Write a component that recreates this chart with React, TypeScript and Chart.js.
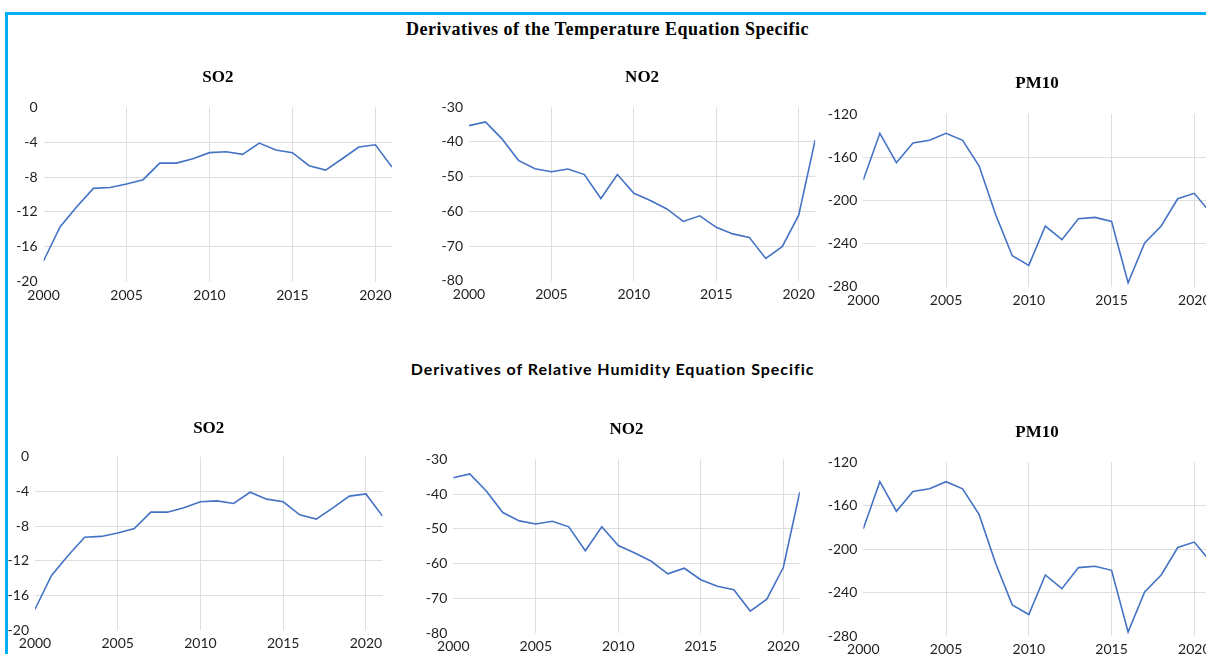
import React, { useEffect, useRef } from "react";
import { Chart, registerables } from "chart.js";

Chart.register(...registerables);

// ---- Data ----
const years = [
  2000, 2001, 2002, 2003, 2004, 2005, 2006, 2007, 2008, 2009, 2010,
  2011, 2012, 2013, 2014, 2015, 2016, 2017, 2018, 2019, 2020, 2021,
];
const xTickYears = [2000, 2005, 2010, 2015, 2020];

const so2Values = [
  -17.6, -13.7, -11.4, -9.3, -9.2, -8.8, -8.3, -6.4, -6.4, -5.9, -5.2,
  -5.1, -5.4, -4.1, -4.9, -5.2, -6.7, -7.2, -5.9, -4.55, -4.3, -6.85,
];
const no2Values = [
  -35.3, -34.2, -39.1, -45.3, -47.7, -48.6, -47.8, -49.4, -56.3, -49.4, -54.8,
  -56.9, -59.3, -62.9, -61.3, -64.6, -66.5, -67.5, -73.6, -70.2, -61.1, -39.4,
];
const pm10Values = [
  -181.2, -137.9, -165.1, -146.9, -144.4, -137.9, -144.4, -168.2, -213.3, -251.3, -260.2,
  -223.8, -236.4, -217.0, -215.8, -219.5, -276.3, -239.5, -223.8, -198.5, -193.5, -212.0,
];

const so2Ticks = [-20, -16, -12, -8, -4, 0];
const no2Ticks = [-80, -70, -60, -50, -40, -30];
const pm10Ticks = [-280, -240, -200, -160, -120];

const temperatureTitle = "Derivatives of the Temperature Equation Specific";
const humidityTitle = "Derivatives of Relative Humidity Equation Specific";

// ---- Styling ----
const LINE_COLOR = "#4472C4";
const GRID_COLOR = "#DEDEDE";
const TICK_COLOR = "#1F1F1F";
const TICK_FONT = { family: "Lato", size: 14 };
const Y_W = 50;
const X_H = 30;
const TITLE_SIZE = 17;
const TITLE_LH = TITLE_SIZE * 1.2;

type Plot = { l: number; r: number; t: number; b: number };
type PanelProps = {
  title: string;
  values: number[];
  yTicks: number[];
  plot: Plot;
  titleY: number;
};

function Panel({ title, values, yTicks, plot, titleY }: PanelProps) {
  const ref = useRef<HTMLCanvasElement>(null);
  const cl = Math.floor(plot.l) - Y_W;
  const padLeft = plot.l - Y_W - cl;
  const titleTop = titleY - TITLE_LH / 2;
  const ct = Math.floor(titleTop) - 2;
  const padTop = titleTop - ct;
  const cw = Math.ceil(plot.r - cl) + 1;
  const padRight = cw - (plot.r - cl);
  const ch = Math.ceil(plot.b - ct) + X_H + 1;
  const padBottom = ch - X_H - (plot.b - ct);

  useEffect(() => {
    const yMin = yTicks[0];
    const yMax = yTicks[yTicks.length - 1];
    const chart = new Chart(ref.current as HTMLCanvasElement, {
      type: "line",
      data: {
        datasets: [
          {
            data: years.map((y, i) => ({ x: y, y: values[i] })),
            borderColor: LINE_COLOR,
            borderWidth: 1.6,
            pointRadius: 0,
            tension: 0,
            fill: false,
          },
        ],
      },
      options: {
        responsive: false,
        animation: false,
        devicePixelRatio: 1,
        layout: {
          padding: { left: padLeft, top: padTop, right: padRight, bottom: padBottom },
        },
        plugins: {
          legend: { display: false },
          tooltip: { enabled: false },
          title: {
            display: true,
            text: title,
            fullSize: false,
            color: "#000",
            font: { family: "Liberation Serif", size: TITLE_SIZE, weight: "bold", lineHeight: 1.2 },
            padding: { top: 0, bottom: plot.t - titleY - TITLE_LH / 2 },
          },
        },
        scales: {
          x: {
            type: "linear",
            min: years[0],
            max: years[years.length - 1],
            afterBuildTicks: (s: any) => {
              s.ticks = xTickYears.map((v) => ({ value: v }));
            },
            afterFit: (s: any) => {
              s.height = X_H;
              s.paddingLeft = 0;
              s.paddingRight = 0;
            },
            ticks: {
              callback: (v: any) => String(v),
              font: TICK_FONT,
              color: TICK_COLOR,
              padding: 5,
              maxRotation: 0,
              autoSkip: false,
            },
            grid: {
              color: (ctx: any) =>
                ctx.tick && ctx.tick.value === years[0] ? "rgba(0,0,0,0)" : GRID_COLOR,
              lineWidth: 1,
              drawTicks: false,
            },
            border: { display: false },
          },
          y: {
            type: "linear",
            min: yMin,
            max: yMax,
            afterBuildTicks: (s: any) => {
              s.ticks = yTicks.map((v) => ({ value: v }));
            },
            afterFit: (s: any) => {
              s.width = Y_W;
              s.paddingTop = 0;
              s.paddingBottom = 0;
            },
            ticks: {
              callback: (v: any) => String(v),
              font: TICK_FONT,
              color: TICK_COLOR,
              padding: 6,
              autoSkip: false,
            },
            grid: {
              color: (ctx: any) =>
                ctx.tick && (ctx.tick.value === yMin || ctx.tick.value === yMax)
                  ? "rgba(0,0,0,0)"
                  : GRID_COLOR,
              lineWidth: 1,
              drawTicks: false,
            },
            border: { display: false },
          },
        },
      },
    } as any);
    return () => chart.destroy();
  }, []);

  return (
    <canvas
      ref={ref}
      width={cw}
      height={ch}
      style={{ position: "absolute", left: cl, top: ct, width: cw, height: ch, display: "block" }}
    />
  );
}

export default function App() {
  return (
    <div
      style={{
        position: "fixed",
        left: 0,
        top: 0,
        width: 1206,
        height: 654,
        overflow: "hidden",
        background: "#fff",
      }}
    >
      <div
        style={{
          position: "absolute",
          left: 5,
          top: 12,
          width: 1300,
          height: 800,
          borderTop: "3px solid #00B0F0",
          borderLeft: "3px solid #00B0F0",
          boxSizing: "border-box",
        }}
      />
      <div
        style={{
          position: "absolute",
          left: 0,
          top: 19,
          width: 1215,
          textAlign: "center",
          fontFamily: "'Liberation Serif', serif",
          fontWeight: "bold",
          fontSize: 18,
          letterSpacing: 0.5,
          lineHeight: "20px",
          color: "#000",
          whiteSpace: "nowrap",
        }}
      >
        {temperatureTitle}
      </div>
      <div
        style={{
          position: "absolute",
          left: 0,
          top: 360,
          width: 1225,
          textAlign: "center",
          fontFamily: "Lato, sans-serif",
          fontWeight: "bold",
          fontSize: 16,
          letterSpacing: 0.95,
          lineHeight: "18px",
          color: "#000",
          whiteSpace: "nowrap",
        }}
      >
        {humidityTitle}
      </div>

      <Panel title="SO2" values={so2Values} yTicks={so2Ticks}
        plot={{ l: 43.6, r: 392, t: 107.3, b: 281.7 }} titleY={77.5} />
      <Panel title="NO2" values={no2Values} yTicks={no2Ticks}
        plot={{ l: 469, r: 815.2, t: 107.3, b: 280.7 }} titleY={77.5} />
      <Panel title="PM10" values={pm10Values} yTicks={pm10Ticks}
        plot={{ l: 863.3, r: 1210.85, t: 114, b: 286.7 }} titleY={83.3} />

      <Panel title="SO2" values={so2Values} yTicks={so2Ticks}
        plot={{ l: 35, r: 382.5, t: 456.7, b: 630 }} titleY={428.3} />
      <Panel title="NO2" values={no2Values} yTicks={no2Ticks}
        plot={{ l: 453.3, r: 799.8, t: 459.3, b: 633.3 }} titleY={430} />
      <Panel title="PM10" values={pm10Values} yTicks={pm10Ticks}
        plot={{ l: 863.3, r: 1210.85, t: 462.3, b: 636 }} titleY={432.3} />
    </div>
  );
}
